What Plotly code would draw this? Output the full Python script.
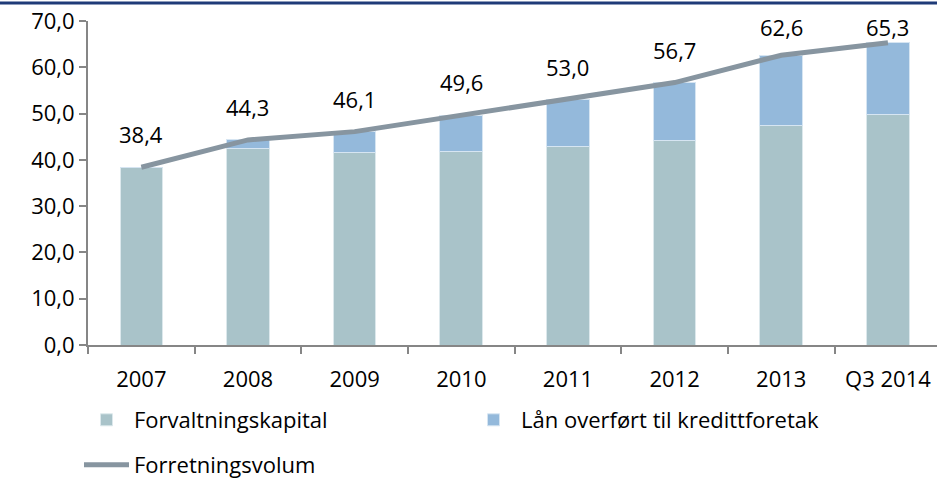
import plotly.graph_objects as go

categories = ["2007", "2008", "2009", "2010", "2011", "2012", "2013", "Q3 2014"]
forvaltningskapital = [38.4, 42.4, 41.6, 41.8, 42.9, 44.2, 47.5, 49.9]
forretningsvolum = [38.4, 44.3, 46.1, 49.6, 53.0, 56.7, 62.6, 65.3]
laan_overfort = [round(t - b, 1) for t, b in zip(forretningsvolum, forvaltningskapital)]
y_ticks = [0, 10, 20, 30, 40, 50, 60, 70]

FONT = "Open Sans, Liberation Sans, sans-serif"
W, H = 937, 479
PLOT_TOP, PLOT_BOTTOM = 20.5, 345

fig = go.Figure()
fig.add_trace(go.Bar(
    x=categories, y=forvaltningskapital, name="Forvaltningskapital",
    marker=dict(color="#A9C3C9", line=dict(color="#DCE8EC", width=1)),
    width=0.4, legend="legend",
))
fig.add_trace(go.Bar(
    x=categories, y=laan_overfort, name="Lån overført til kredittforetak",
    marker=dict(color="#94B9DB", line=dict(color="#D6E5F2", width=1)),
    width=0.4, legend="legend",
))
fig.add_trace(go.Scatter(
    x=categories, y=forretningsvolum, name="Forretningsvolum",
    mode="lines", line=dict(color="#8795A0", width=5),
    legend="legend2",
))

# value labels above the line
scale = (PLOT_BOTTOM - PLOT_TOP) / 70
for i, v in enumerate(forretningsvolum):
    ypx = PLOT_BOTTOM - v * scale
    shift = min(33, ypx - 27)
    fig.add_annotation(
        x=i, y=v, xref="x", yref="y", text=f"{v:.1f}".replace(".", ","),
        showarrow=False, yshift=shift,
        font=dict(size=22, color="#000000", family=FONT),
    )

ytop = 1 + (PLOT_TOP - 2.5) / (PLOT_BOTTOM - PLOT_TOP)
fig.add_shape(type="line", xref="paper", yref="paper",
              x0=-0.2, x1=1.1, y0=ytop, y1=ytop,
              line=dict(color="#1F3B78", width=3))

fig.update_layout(
    width=W, height=H,
    margin=dict(l=88, r=0, t=PLOT_TOP, b=H - PLOT_BOTTOM, autoexpand=False),
    barmode="stack",
    plot_bgcolor="white", paper_bgcolor="white",
    separators=", ",
    font=dict(family=FONT, size=22, color="#000000"),
    xaxis=dict(
        type="category", range=[-0.5, 7.46],
        showline=True, linecolor="#868686", linewidth=2,
        ticks="outside", ticklen=7, tickcolor="#868686", tickwidth=2,
        tickson="boundaries", showgrid=False, ticklabelstandoff=14,
        tickfont=dict(size=22, family=FONT),
    ),
    yaxis=dict(
        range=[0, 70], tickvals=y_ticks, tickformat=".1f",
        showline=True, linecolor="#868686", linewidth=2,
        ticks="outside", ticklen=7, tickcolor="#868686", tickwidth=2,
        showgrid=False, zeroline=False,
        tickfont=dict(size=22, family=FONT),
    ),
    legend=dict(
        orientation="h", xref="container", yref="container",
        x=79 / W, y=1 - 420 / H, xanchor="left", yanchor="middle",
        entrywidth=327, entrywidthmode="pixels", itemwidth=45,
        font=dict(size=22, family=FONT), bgcolor="rgba(0,0,0,0)",
        traceorder="normal",
    ),
    legend2=dict(
        orientation="h", xref="container", yref="container",
        x=79 / W, y=1 - 465 / H, xanchor="left", yanchor="middle",
        itemwidth=45, font=dict(size=22, family=FONT), bgcolor="rgba(0,0,0,0)",
    ),
    showlegend=True,
)

fig.write_html(
    "out.html",
    config={"displayModeBar": False},
    post_script="document.body.style.margin='0';document.body.style.padding='0';",
)
